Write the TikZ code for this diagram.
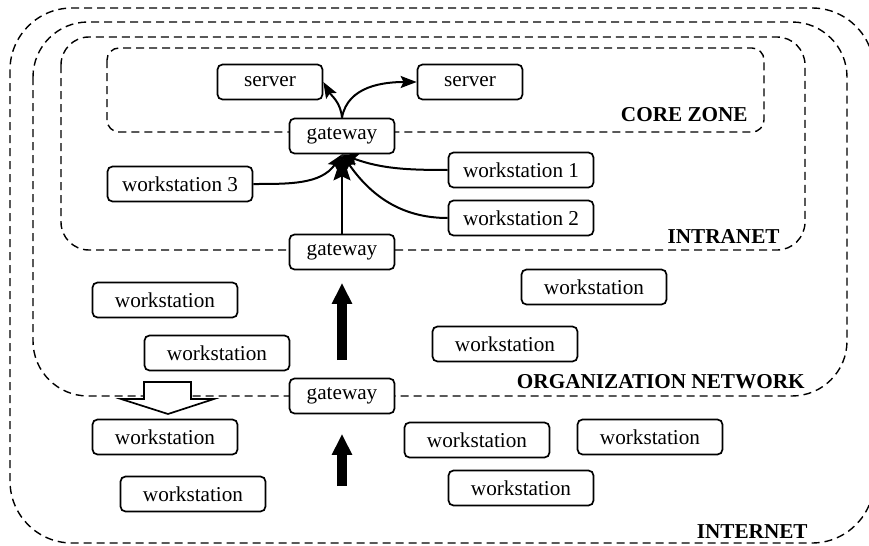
\documentclass[tikz,border=0pt]{standalone}
\usepackage{fontspec}
\setmainfont{Liberation Serif}
\usetikzlibrary{arrows.meta, positioning}
\tikzset{
    hostnode/.style = {draw, rectangle, rounded corners=2.5pt, fill=white, line width=0.85pt,
      minimum height=17.5pt, minimum width=72.5pt, inner sep=0pt, font=\fontsize{10.6}{12}\selectfont},
    gatenode/.style = {hostnode, minimum width=52.5pt},
    zonelabel/.style = {draw=none, fill=none, inner sep=0pt, anchor=east,
      font=\fontsize{10.6}{12}\selectfont\bfseries},
    zone/.style = {draw, dash pattern=on 4pt off 2.5pt, line width=0.7pt},
    connect/.style = {black, line width=1pt, -{Stealth[length=8pt, width=6pt, inset=1.5pt]}},
    bigconnect/.style = {black, line width=1pt, -{Stealth[length=13pt, width=8.5pt, inset=2pt]}},
    thickarrow/.style = {black, line width=5pt, -{Triangle[length=10.5pt, width=9.5pt]}}
}

\begin{document}
\begin{tikzpicture}[x=0.5pt, y=-0.5pt]
\useasboundingbox (0,0) rectangle (869,546);

\draw [zone, rounded corners=31pt] (10,8) rectangle (874,543);
\draw [zone, rounded corners=27.5pt] (33,22) rectangle (847,396);
\draw [zone, rounded corners=14pt] (61,37) rectangle (805,250);
\draw [zone, rounded corners=6pt] (107,48) rectangle (764,132);

\node [zonelabel, name=LblCore] at (748,115) {CORE ZONE};
\node [zonelabel, name=LblIntra] at (780,237) {INTRANET};
\node [zonelabel, name=LblOrg] at (805,382) {ORGANIZATION NETWORK};
\node [zonelabel, name=LblNet] at (808,532) {INTERNET};

\node [gatenode, name=SrvLeft] at (270,82) {server};
\node [gatenode, name=SrvRight] at (470,82) {server};
\node [gatenode, name=GwCore] at (342,136) {gateway};
\node [gatenode, name=GwIntra] at (342,252) {gateway};
\node [gatenode, name=GwOrg] at (342,396) {gateway};

\node [hostnode, name=WsThree] at (180,184) {workstation 3};
\node [hostnode, name=WsOne] at (521,170) {workstation 1};
\node [hostnode, name=WsTwo] at (521,218) {workstation 2};

\node [hostnode, name=OrgA] at (165,300) {workstation};
\node [hostnode, name=OrgB] at (217,353) {workstation};
\node [hostnode, name=OrgC] at (594,287) {workstation};
\node [hostnode, name=OrgD] at (505,344) {workstation};

\node [hostnode, name=NetA] at (165,437) {workstation};
\node [hostnode, name=NetB] at (193,494) {workstation};
\node [hostnode, name=NetC] at (477,440) {workstation};
\node [hostnode, name=NetD] at (650,437) {workstation};
\node [hostnode, name=NetE] at (521,488) {workstation};

\draw (GwCore.north) edge[connect, out=95, in=-60] (SrvLeft.east);
\draw (GwCore.north) edge[connect, out=80, in=180] (SrvRight.west);
\draw (WsThree.east) edge[connect, out=0, in=-125] (GwCore.south);
\draw (WsOne.west) edge[connect, out=180, in=-20] (GwCore.south);
\draw (WsTwo.west) edge[connect, out=180, in=-55] (GwCore.south);
\draw (GwIntra) edge[bigconnect] (GwCore);

\draw [thickarrow, shorten <=8.75pt, shorten >=6.25pt] (GwOrg) -- (GwIntra);
\coordinate (Inflow) at (342,486);
\draw [thickarrow, shorten >=9.75pt] (Inflow) -- (GwOrg);

\draw [fill=white, line width=0.85pt] (144,382) -- (191,382) -- (191,399) -- (214,399)
  -- (168,414) -- (121,399) -- (144,399) -- cycle;
\end{tikzpicture}
\end{document}
